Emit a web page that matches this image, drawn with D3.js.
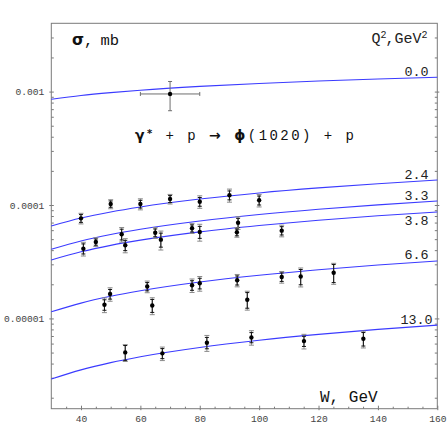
<!DOCTYPE html>
<html>
<head>
<meta charset="utf-8">
<script src="https://cdn.jsdelivr.net/npm/d3@7/dist/d3.min.js"></script>
<style>
  html, body { margin: 0; padding: 0; background: #fff; }
  svg { display: block; }
  text { font-family: "Liberation Mono", "DejaVu Sans Mono", monospace; }
</style>
</head>
<body>
<div id="chart"></div>
<script>
// ---------------- data ----------------
const curveW = [30, 40, 50, 60, 80, 100, 120, 140, 160];
const curveLabels = ["0.0", "2.4", "3.3", "3.8", "6.6", "13.0"];
const curve00  = [8.55e-4, 9.24e-4, 9.80e-4, 1.029e-3, 1.111e-3, 1.179e-3, 1.238e-3, 1.290e-3, 1.337e-3];
const curve24  = [6.53e-5, 7.67e-5, 8.68e-5, 9.61e-5, 1.128e-4, 1.278e-4, 1.415e-4, 1.542e-4, 1.661e-4];
const curve33  = [4.07e-5, 4.82e-5, 5.49e-5, 6.11e-5, 7.23e-5, 8.24e-5, 9.17e-5, 1.003e-4, 1.084e-4];
const curve38  = [3.28e-5, 3.87e-5, 4.41e-5, 4.90e-5, 5.80e-5, 6.60e-5, 7.34e-5, 8.03e-5, 8.68e-5];
const curve66  = [1.143e-5, 1.365e-5, 1.566e-5, 1.753e-5, 2.094e-5, 2.403e-5, 2.689e-5, 2.956e-5, 3.210e-5];
const curve130 = [2.92e-6, 3.52e-6, 4.08e-6, 4.60e-6, 5.55e-6, 6.42e-6, 7.23e-6, 8.00e-6, 8.73e-6];

// photoproduction point (Q^2 = 0)
const w00 = [70];
const s00 = [9.53e-4];
const e00 = [2.75e-4];
const wErr00 = [10];

// Q^2 = 2.4
const w24 = [40, 50, 60, 70, 80, 90, 100];
const s24 = [7.63e-5, 1.02e-4, 1.02e-4, 1.13e-4, 1.07e-4, 1.22e-4, 1.10e-4];
const e24 = [8.2e-6, 9.3e-6, 1.14e-5, 1.10e-5, 1.35e-5, 1.61e-5, 1.39e-5];
const st24 = [6.0e-6, 6.5e-6, 8.0e-6, 8.0e-6, 9.5e-6, 1.1e-5, 1.0e-5];
// Q^2 = 3.3
const w33 = [45, 53.7, 65, 77.4, 92.9, 107.6];
const s33 = [4.72e-5, 5.52e-5, 5.70e-5, 6.23e-5, 6.98e-5, 5.94e-5];
const e33 = [4.2e-6, 8.1e-6, 6.2e-6, 6.2e-6, 8.9e-6, 7.0e-6];
const st33 = [3.0e-6, 6.0e-6, 4.5e-6, 4.5e-6, 6.5e-6, 5.0e-6];
// Q^2 = 3.8
const w38 = [40.8, 54.9, 66.9, 80, 92.5];
const s38 = [4.12e-5, 4.42e-5, 4.95e-5, 5.78e-5, 5.75e-5];
const e38 = [5.7e-6, 6.3e-6, 9.4e-6, 9.8e-6, 5.5e-6];
const st38 = [4.2e-6, 4.6e-6, 7.0e-6, 7.0e-6, 4.0e-6];
// Q^2 = 6.6
const w66 = [47.9, 49.8, 62.3, 64, 77.4, 80, 92.6, 96, 107.6, 114, 125.1];
const s66 = [1.32e-5, 1.64e-5, 1.91e-5, 1.30e-5, 1.96e-5, 2.04e-5, 2.17e-5, 1.46e-5, 2.32e-5, 2.34e-5, 2.53e-5];
const e66 = [1.95e-6, 2.23e-6, 2.25e-6, 2.21e-6, 2.67e-6, 3.02e-6, 2.71e-6, 2.77e-6, 2.74e-6, 4.45e-6, 5.31e-6];
const st66 = [1.4e-6, 1.6e-6, 1.6e-6, 1.7e-6, 1.9e-6, 2.2e-6, 2.0e-6, 2.3e-6, 2.0e-6, 3.6e-6, 4.6e-6];
// Q^2 = 13.0
const w130 = [54.9, 67.4, 82.4, 97.4, 115.1, 135.1];
const s130 = [5.02e-6, 4.92e-6, 6.10e-6, 6.80e-6, 6.31e-6, 6.61e-6];
const e130 = [8.5e-7, 6.7e-7, 9.8e-7, 9.9e-7, 9.3e-7, 1.12e-6];
const st130 = [7.5e-7, 5.0e-7, 7.0e-7, 7.0e-7, 6.5e-7, 9.0e-7];

const xTickValues = [40, 60, 80, 100, 120, 140, 160];
const xTickLabels = ["40", "60", "80", "100", "120", "140", "160"];
const yTickValues = [1e-5, 1e-4, 1e-3];
const yTickLabels = ["0.00001", "0.0001", "0.001"];

// ---------------- drawing ----------------
const W = 447, H = 447;
const L = 51.3, R = 437.3, T = 23.3, B = 408.7;

const svg = d3.select("#chart").append("svg")
  .attr("width", W).attr("height", H);

const x = d3.scaleLinear().domain([30, 160]).range([L, R]);
const y = d3.scaleLog().domain([1.6e-6, 4e-3]).range([B, T]);

const frameColor = "#7a7a7a";

// minor tick values
const yMinor = [];
for (const dec of [1e-6, 1e-5, 1e-4, 1e-3]) {
  for (let k = 2; k <= 9; k++) {
    const v = k * dec;
    if (v > 1.6e-6 && v < 4e-3) yMinor.push(v);
  }
}
const xMinor = d3.range(35, 160, 5).filter(v => v % 20 !== 0);

function styleAxis(g) {
  g.select(".domain").remove();
  g.selectAll(".tick line").attr("stroke", frameColor).attr("stroke-width", 1);
  g.selectAll(".tick text")
    .attr("fill", "#444")
    .style("font-family", "'Liberation Mono', monospace")
    .style("font-size", "9.6px");
}

// left axis: major (outer part with labels), major inner, minor inner
svg.append("g").attr("transform", `translate(${L},0)`)
  .call(d3.axisLeft(y).tickValues(yTickValues).tickSize(2).tickPadding(5)
        .tickFormat((d, i) => yTickLabels[i]))
  .call(styleAxis);
svg.append("g").attr("transform", `translate(${L},0)`)
  .call(d3.axisLeft(y).tickValues(yTickValues.concat(yMinor)).tickSize(-2.5).tickFormat(""))
  .call(styleAxis);
// right axis ticks (inside)
svg.append("g").attr("transform", `translate(${R},0)`)
  .call(d3.axisRight(y).tickValues(yTickValues.concat(yMinor)).tickSize(-2.5).tickFormat(""))
  .call(styleAxis);
svg.append("g").attr("transform", `translate(${R},0)`)
  .call(d3.axisRight(y).tickValues(yTickValues).tickSize(2).tickFormat(""))
  .call(styleAxis);

// bottom axis
svg.append("g").attr("transform", `translate(0,${B})`)
  .call(d3.axisBottom(x).tickValues(xTickValues).tickSize(1.5).tickPadding(5)
        .tickFormat((d, i) => xTickLabels[i]))
  .call(styleAxis);
svg.append("g").attr("transform", `translate(0,${B})`)
  .call(d3.axisBottom(x).tickValues(xTickValues).tickSize(-3).tickFormat(""))
  .call(styleAxis);
svg.append("g").attr("transform", `translate(0,${B})`)
  .call(d3.axisBottom(x).tickValues(xMinor).tickSize(-2).tickFormat(""))
  .call(styleAxis);

// frame
svg.append("rect")
  .attr("x", L).attr("y", T).attr("width", R - L).attr("height", B - T)
  .attr("fill", "none").attr("stroke", frameColor).attr("stroke-width", 1);

// curves
const curveSets = [curve00, curve24, curve33, curve38, curve66, curve130];
const line = d3.line()
  .x(d => x(d[0])).y(d => y(d[1]))
  .curve(d3.curveMonotoneX);

const gCurves = svg.append("g");
curveSets.forEach((vals, i) => {
  const pts = curveW.map((w, j) => [w, vals[j]]);
  gCurves.append("path")
    .attr("d", line(pts))
    .attr("fill", "none")
    .attr("stroke", "#3b3bff")
    .attr("stroke-width", 1.1);
  // label near right end
  const lastY = y(vals[vals.length - 1]);
  const below = curveLabels[i] === "3.8";
  svg.append("text")
    .attr("x", 416.5)
    .attr("y", below ? lastY + 13.5 : lastY - 1.5)
    .attr("text-anchor", "middle")
    .attr("fill", "#222")
    .style("font-size", "13.4px")
    .text(curveLabels[i]);
});

// error bars + points
const gPts = svg.append("g");
function drawSeries(ws, ss, es, sts) {
  ws.forEach((w, i) => {
    const cx = x(w);
    const yHi = y(ss[i] + es[i]), yLo = y(ss[i] - es[i]);
    const sHi = y(ss[i] + sts[i]), sLo = y(ss[i] - sts[i]);
    // total (gray)
    gPts.append("line").attr("x1", cx).attr("x2", cx).attr("y1", yHi).attr("y2", yLo)
      .attr("stroke", "#8a8a8a").attr("stroke-width", 1);
    [yHi, yLo].forEach(yy => gPts.append("line")
      .attr("x1", cx - 2.5).attr("x2", cx + 2.5).attr("y1", yy).attr("y2", yy)
      .attr("stroke", "#8a8a8a").attr("stroke-width", 1));
    // statistical (black)
    gPts.append("line").attr("x1", cx).attr("x2", cx).attr("y1", sHi).attr("y2", sLo)
      .attr("stroke", "#111").attr("stroke-width", 1);
    [sHi, sLo].forEach(yy => gPts.append("line")
      .attr("x1", cx - 2).attr("x2", cx + 2).attr("y1", yy).attr("y2", yy)
      .attr("stroke", "#111").attr("stroke-width", 1));
    gPts.append("circle").attr("cx", cx).attr("cy", y(ss[i])).attr("r", 2.2).attr("fill", "#000");
  });
}
drawSeries(w24, s24, e24, st24);
drawSeries(w33, s33, e33, st33);
drawSeries(w38, s38, e38, st38);
drawSeries(w66, s66, e66, st66);
drawSeries(w130, s130, e130, st130);

// photoproduction point with horizontal bar
w00.forEach((w, i) => {
  const cx = x(w), cy = y(s00[i]);
  const c = "#6e6e6e";
  const yHi = y(s00[i] + e00[i]), yLo = y(s00[i] - e00[i]);
  const xL = x(w - wErr00[i]), xR = x(w + wErr00[i]);
  gPts.append("line").attr("x1", cx).attr("x2", cx).attr("y1", yHi).attr("y2", yLo).attr("stroke", c);
  [yHi, yLo].forEach(yy => gPts.append("line").attr("x1", cx - 2).attr("x2", cx + 2)
    .attr("y1", yy).attr("y2", yy).attr("stroke", c));
  gPts.append("line").attr("x1", xL).attr("x2", xR).attr("y1", cy).attr("y2", cy).attr("stroke", c);
  [xL, xR].forEach(xx => gPts.append("line").attr("x1", xx).attr("x2", xx)
    .attr("y1", cy - 2).attr("y2", cy + 2).attr("stroke", c));
  gPts.append("circle").attr("cx", cx).attr("cy", cy).attr("r", 2.2).attr("fill", "#000");
});

// annotations
const sig = svg.append("text").attr("x", 72).attr("y", 44.5)
  .attr("fill", "#111").style("font-size", "15.5px");
sig.append("tspan").text("σ").style("font-family", "'DejaVu Sans', sans-serif").style("font-weight", "bold");
sig.append("tspan").text(",");
sig.append("tspan").attr("x", 100.5).text("mb");

const qt = svg.append("text").attr("x", 371.5).attr("y", 43)
  .attr("fill", "#222").style("font-size", "15px");
qt.append("tspan").text("Q");
qt.append("tspan").text("2").attr("dy", -5).style("font-size", "10px");
qt.append("tspan").text(",GeV").attr("dy", 5).attr("dx", -1);
qt.append("tspan").text("2").attr("dy", -5).style("font-size", "10px");

const title = svg.append("text").attr("x", 135).attr("y", 139.5)
  .attr("fill", "#111").style("font-size", "14px");
title.append("tspan").text("γ").style("font-family", "'DejaVu Sans', sans-serif").style("font-weight", "bold");
title.append("tspan").text("*").style("font-size", "10px").attr("dy", -3).style("font-weight", "bold")
  .style("font-family", "'DejaVu Sans', sans-serif");
title.append("tspan").text(" + p ").attr("dy", 3).attr("xml:space", "preserve");
title.append("tspan").text("→").style("font-family", "'DejaVu Sans', sans-serif").style("font-weight", "bold");
title.append("tspan").text(" ");
title.append("tspan").text("ϕ").style("font-family", "'DejaVu Sans', sans-serif").style("font-weight", "bold");
title.append("tspan").text("(1020) + p");
title.attr("textLength", 219).attr("lengthAdjust", "spacing").style("white-space", "pre");

svg.append("text").attr("x", 320).attr("y", 401.5)
  .attr("fill", "#111").style("font-size", "16px")
  .text("W, GeV");
</script>
</body>
</html>
